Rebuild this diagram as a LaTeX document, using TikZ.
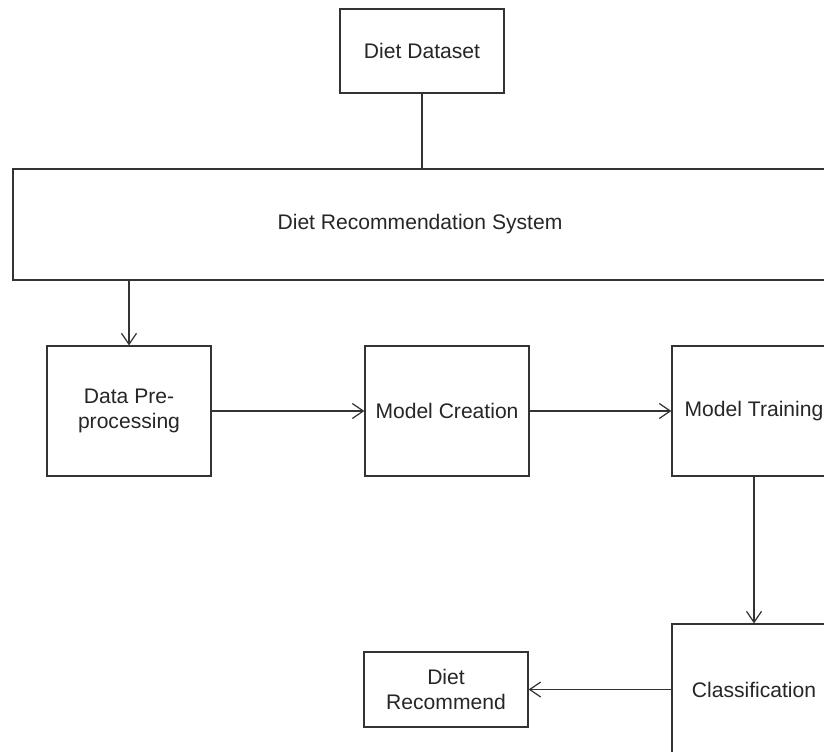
\documentclass[tikz,border=0pt]{standalone}
\usepackage{fontspec}
\setmainfont{Liberation Sans}
\usetikzlibrary{arrows.meta}
\begin{document}
\begin{tikzpicture}[x=0.2mm, y=-0.2mm,
    box/.style={draw=black!80, line width=0.7pt, minimum width=32.8mm, minimum height=26mm,
        align=center, font=\fontsize{12}{14}\selectfont, text=black!85, inner sep=0pt},
    link/.style={draw=black!80, line width=0.7pt},
    arr/.style={link, -{Straight Barb[length=2.2mm, width=3mm]}}]
        \useasboundingbox (0, 0) rectangle (824, 751);
        \clip (0, 0) rectangle (824, 751);
        \node[box, minimum height=16.8mm] (dd) at (422, 51) {Diet Dataset};
        \node[box, minimum width=162.8mm, minimum height=22.2mm] (drs) at (420, 224.5) {Diet Recommendation System};
        \node[box] (pre) at (129, 411) {Data Pre-\\processing};
        \node[box] (mc) at (447, 411) {Model Creation};
        \node[box] (mt) at (754, 411) {Model Training};
        \node[box, minimum height=26.2mm] (cls) at (754, 689.5) {Classification};
        \node[box, minimum height=15mm] (rec) at (446, 689.5) {Diet\\Recommend};
        \draw[link] (dd.south) -- (dd.south |- drs.north);
        \draw[arr] (pre.north |- drs.south) -- (pre.north);
        \draw[arr] (pre) -- (mc);
        \draw[arr] (mc) -- (mt);
        \draw[arr] (mt) -- (cls);
        \draw[arr] (cls) -- (rec);
    \end{tikzpicture}
\end{document}
